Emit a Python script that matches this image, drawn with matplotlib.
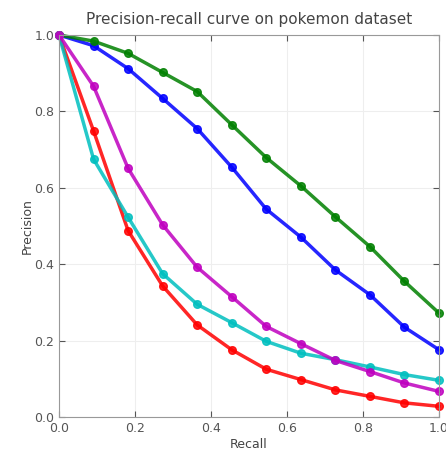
import numpy as np
import matplotlib
matplotlib.use('Agg')
import matplotlib.pyplot as plt

recall = [0.0, 1/11, 2/11, 3/11, 4/11, 5/11, 6/11, 7/11, 8/11, 9/11, 10/11, 1.0]

prec_blue = [1.0, 0.972, 0.912, 0.834, 0.755, 0.654, 0.544, 0.471, 0.385, 0.320, 0.235, 0.176]
prec_green = [1.0, 0.984, 0.952, 0.902, 0.852, 0.765, 0.679, 0.605, 0.524, 0.446, 0.355, 0.272]
prec_red = [1.0, 0.749, 0.488, 0.343, 0.241, 0.176, 0.125, 0.098, 0.071, 0.054, 0.037, 0.028]
prec_cyan = [1.0, 0.675, 0.523, 0.375, 0.295, 0.247, 0.198, 0.167, 0.150, 0.131, 0.111, 0.096]
prec_magenta = [1.0, 0.866, 0.651, 0.503, 0.392, 0.315, 0.237, 0.192, 0.148, 0.119, 0.089, 0.067]

fig = plt.figure(figsize=(4.46, 4.51), dpi=100)
ax = fig.add_axes([59 / 446, (451 - 417) / 451, 380 / 446, 382 / 451])

for prec, col in [(prec_blue, 'b'), (prec_green, 'g'), (prec_red, 'r'),
                  (prec_cyan, 'c'), (prec_magenta, 'm')]:
    ax.plot(recall, prec, color=col, linewidth=2.5, marker='o', markersize=5.5,
            markeredgecolor=col, clip_on=False, alpha=0.85)

ax.set_xlim(0, 1)
ax.set_ylim(0, 1)
ax.set_xticks(np.arange(0, 1.01, 0.2))
ax.set_yticks(np.arange(0, 1.01, 0.2))
ax.grid(True, color='#eeeeee', linewidth=0.8)
ax.set_axisbelow(True)
ax.tick_params(direction='in', top=True, right=True, labelsize=9,
               colors='#555555', length=4)
for s in ax.spines.values():
    s.set_color('#999999')
ax.set_xlabel('Recall', fontsize=9, color='#444444', labelpad=2)
ax.set_ylabel('Precision', fontsize=9, color='#444444', labelpad=0)
ax.set_title('Precision-recall curve on pokemon dataset', fontsize=11,
             color='#444444', pad=8)

fig.savefig('out.png', dpi=100)
